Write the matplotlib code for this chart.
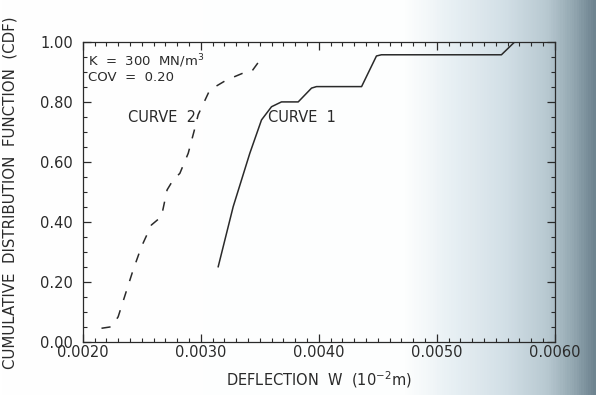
import numpy as np
import matplotlib
matplotlib.use('Agg')
import matplotlib.pyplot as plt
from matplotlib.colors import LinearSegmentedColormap
from matplotlib.ticker import MultipleLocator

# CDF of deflection, two curves
curve1_w = [0.003147, 0.003274, 0.003415, 0.003514, 0.003599, 0.003683, 0.003825,
            0.003938, 0.003980, 0.004362, 0.004488, 0.004530, 0.005547, 0.005660]
curve1_cdf = [0.251, 0.451, 0.629, 0.740, 0.784, 0.800, 0.800,
              0.846, 0.851, 0.851, 0.953, 0.957, 0.957, 1.000]

curve2_w = [0.002158, 0.002243, 0.002299, 0.002426, 0.002497, 0.002581, 0.002666,
            0.002714, 0.002765, 0.002822, 0.002893, 0.002949, 0.002977, 0.003076,
            0.003218, 0.003358, 0.003430, 0.003530]
curve2_cdf = [0.046, 0.051, 0.084, 0.240, 0.318, 0.390, 0.418,
              0.507, 0.540, 0.562, 0.629, 0.712, 0.757, 0.840,
              0.873, 0.896, 0.901, 0.955]

x_ticks = [0.0020, 0.0030, 0.0040, 0.0050, 0.0060]
x_ticklabels = ['0.0020', '0.0030', '0.0040', '0.0050', '0.0060']
y_ticks = [0.0, 0.2, 0.4, 0.6, 0.8, 1.0]
y_ticklabels = ['0.00', '0.20', '0.40', '0.60', '0.80', '1.00']

ink = '#2a2a2a'
plt.rcParams['font.family'] = ['DejaVu Sans']

fig = plt.figure(figsize=(5.96, 3.95), dpi=100)

# paper shading towards the right edge
bg = fig.add_axes([0, 0, 1, 1], zorder=-1)
shade = LinearSegmentedColormap.from_list(
    'paper', [(0.0, '#ffffff'), (0.68, '#fdfefe'), (0.76, '#e8f0f4'),
              (0.85, '#d2dfe6'), (0.92, '#b8c9d1'), (0.965, '#93a7b1'),
              (1.0, '#6e8490')])
bg.imshow(np.linspace(0, 1, 600)[None, :], aspect='auto', cmap=shade,
          extent=[0, 1, 0, 1])
bg.set_axis_off()

ax = fig.add_axes([0.139, 0.134, 0.792, 0.760])
ax.set_facecolor('none')

ax.plot(curve1_w, curve1_cdf, color=ink, lw=1.1)
ax.plot(curve2_w, curve2_cdf, color=ink, lw=1.1, dashes=(6, 7))

ax.set_xlim(0.002, 0.006)
ax.set_ylim(0.0, 1.0)
ax.set_xticks(x_ticks)
ax.set_xticklabels(x_ticklabels)
ax.set_yticks(y_ticks)
ax.set_yticklabels(y_ticklabels)
ax.xaxis.set_minor_locator(MultipleLocator(0.0001))
ax.yaxis.set_minor_locator(MultipleLocator(0.05))
ax.tick_params(which='both', direction='in', top=True, right=True,
               color=ink, labelcolor=ink, labelsize=10.5)
ax.tick_params(which='major', length=6, width=0.9)
ax.tick_params(which='minor', length=3, width=0.8)
ax.tick_params(axis='x', pad=2)
ax.tick_params(axis='y', pad=7)
for s in ax.spines.values():
    s.set_color(ink)
    s.set_linewidth(0.9)

ax.set_xlabel('DEFLECTION  W  (10$^{-2}$m)', color=ink, fontsize=10.5,
              labelpad=7)
ax.set_ylabel('CUMULATIVE  DISTRIBUTION  FUNCTION  (CDF)', color=ink,
              fontsize=10.8)
ax.yaxis.set_label_coords(-0.138, 0.497)

ax.text(0.002042, 0.937, 'K  =  300  MN/m$^3$', color=ink, fontsize=9.5,
        va='center', ha='left')
ax.text(0.002042, 0.880, 'COV  =  0.20', color=ink, fontsize=9.5,
        va='center', ha='left')
ax.text(0.002381, 0.747, 'CURVE  2', color=ink, fontsize=10.5,
        va='center', ha='left')
ax.text(0.003568, 0.747, 'CURVE  1', color=ink, fontsize=10.5,
        va='center', ha='left')

fig.savefig('out.png', dpi=100)
